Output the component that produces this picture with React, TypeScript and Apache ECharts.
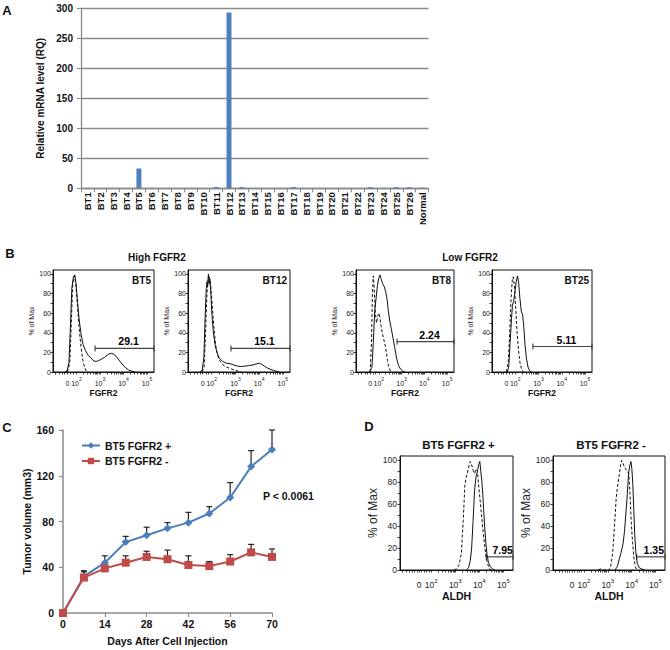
import React, { useEffect, useRef } from "react";
import * as echarts from "echarts";

const FONT = '"Liberation Sans", Arial, Helvetica, sans-serif';

// ---------- Panel A : relative FGFR2 mRNA level ----------
const sampleNames = [
  "BT1", "BT2", "BT3", "BT4", "BT5", "BT6", "BT7", "BT8", "BT9", "BT10",
  "BT11", "BT12", "BT13", "BT14", "BT15", "BT16", "BT17", "BT18", "BT19", "BT20",
  "BT21", "BT22", "BT23", "BT24", "BT25", "BT26", "Normal",
];
const rqValues = [
  0.3, 0.3, 0.5, 0.4, 33, 0.3, 0.4, 0.4, 0.3, 0.4,
  2.2, 293, 2, 0.5, 0.3, 0.3, 2, 0.5, 0.4, 0.3,
  0.3, 0.4, 1.8, 0.4, 1.8, 1.8, 1,
];

// ---------- Panel B : FGFR2 flow histograms (x = log10 scale units, y = % of max) ----------
const fgfr2Samples = ["BT5", "BT12", "BT8", "BT25"];
const bt5Stained = [[1.5,0],[1.6,1],[1.68,10],[1.74,45],[1.8,85],[1.87,97],[1.93,99],[1.98,90],[2.05,70],[2.12,52],[2.2,38],[2.28,28],[2.38,22],[2.5,17],[2.62,14],[2.75,11],[2.9,11],[3.05,13],[3.2,15],[3.35,18],[3.48,19],[3.6,18],[3.72,15],[3.85,11],[3.98,7],[4.1,4],[4.22,2],[4.35,1],[4.5,0]];
const bt5Control = [[1.6,0],[1.66,3],[1.72,12],[1.78,50],[1.84,90],[1.9,98],[1.96,92],[2.02,75],[2.08,55],[2.14,38],[2.2,24],[2.27,12],[2.34,5],[2.42,1],[2.5,0]];
const bt12Stained = [[1.5,0],[1.6,2],[1.67,15],[1.72,55],[1.77,85],[1.8,92],[1.83,88],[1.86,100],[1.89,90],[1.92,95],[1.96,82],[2.0,62],[2.07,40],[2.14,28],[2.22,20],[2.32,14],[2.45,11],[2.6,9],[2.78,8.5],[2.95,7],[3.1,6],[3.25,5.5],[3.4,6],[3.55,6.5],[3.7,7],[3.85,8],[4.0,9],[4.1,8],[4.22,6],[4.35,4],[4.5,2.5],[4.62,1.5],[4.75,0.5],[4.85,0]];
const bt12Control = [[1.6,0],[1.68,5],[1.74,40],[1.8,80],[1.85,95],[1.9,97],[1.95,90],[2.0,75],[2.06,55],[2.12,38],[2.18,25],[2.25,17],[2.35,11],[2.48,7],[2.62,5],[2.78,3.5],[2.95,2],[3.1,1],[3.25,0]];
const bt8Stained = [[1.6,0],[1.7,5],[1.76,30],[1.82,62],[1.88,75],[1.94,88],[2.0,96],[2.05,99],[2.1,95],[2.17,90],[2.24,87],[2.3,82],[2.36,75],[2.42,62],[2.48,52],[2.55,44],[2.62,35],[2.7,25],[2.78,14],[2.86,7],[2.95,3],[3.05,1],[3.15,0]];
const bt8Control = [[1.62,0],[1.68,30],[1.72,80],[1.76,98],[1.8,85],[1.85,60],[1.9,50],[1.96,58],[2.02,60],[2.08,50],[2.15,40],[2.22,33],[2.3,25],[2.38,12],[2.45,4],[2.52,1],[2.6,0]];
const bt25Stained = [[1.65,0],[1.72,5],[1.78,30],[1.84,55],[1.88,68],[1.93,72],[1.98,80],[2.04,92],[2.1,98],[2.15,90],[2.2,75],[2.26,62],[2.32,58],[2.37,45],[2.42,28],[2.48,14],[2.55,5],[2.62,1],[2.7,0]];
const bt25Control = [[1.62,0],[1.7,10],[1.77,45],[1.83,80],[1.88,96],[1.92,97],[1.97,85],[2.02,65],[2.08,40],[2.14,22],[2.2,10],[2.27,3],[2.35,0]];
const fgfr2GateStart = [2.79, 2.81, 2.8, 2.76];
const fgfr2GateEnd = [5.3, 5.3, 5.3, 5.3];
const fgfr2GateLevel = [24, 24, 31, 26];
const fgfr2GatePct = ["29.1", "15.1", "2.24", "5.11"];

// ---------- Panel C : tumour growth ----------
const days = [0, 7, 14, 21, 28, 35, 42, 49, 56, 63, 70];
const plusMean = [0, 32, 44, 62, 68, 74, 79, 87, 101, 128, 143];
const plusUpper = [0, 37, 50, 67, 75, 79, 88, 93, 114, 142, 160];
const minusMean = [0, 31, 39, 44, 49, 47, 42, 41, 45, 53, 49];
const minusUpper = [0, 36, 44, 50, 54, 55, 50, 45, 51, 60, 56];
const growthSeriesNames = ["BT5 FGFR2 +", "BT5 FGFR2 -"];
const pValueText = "P < 0.0061";

// ---------- Panel D : ALDH flow histograms ----------
const aldhTitles = ["BT5 FGFR2 +", "BT5 FGFR2 -"];
const aldhPlusStained = [[3.45,0],[3.55,2],[3.62,8],[3.68,20],[3.74,45],[3.8,72],[3.86,85],[3.92,90],[3.97,96],[4.02,99],[4.06,90],[4.1,82],[4.14,70],[4.18,55],[4.22,40],[4.27,25],[4.32,14],[4.38,7],[4.45,3],[4.55,1],[4.65,0]];
const aldhPlusControl = [[2.95,0],[3.05,1],[3.15,4],[3.25,15],[3.33,45],[3.4,78],[3.47,86],[3.55,93],[3.62,99],[3.68,96],[3.74,91],[3.8,88],[3.86,92],[3.92,90],[3.98,75],[4.04,62],[4.1,48],[4.16,35],[4.22,22],[4.28,12],[4.35,5],[4.42,1],[4.5,0]];
const aldhMinusStained = [[3.3,0],[3.4,3],[3.48,10],[3.56,16],[3.64,24],[3.7,35],[3.76,52],[3.82,70],[3.87,88],[3.92,95],[3.97,99],[4.01,92],[4.05,78],[4.09,55],[4.13,32],[4.18,15],[4.24,6],[4.32,2],[4.42,1],[4.55,0]];
const aldhMinusControl = [[2.6,0],[2.7,1],[2.8,0],[3.05,0],[3.12,3],[3.2,15],[3.28,40],[3.35,65],[3.4,75],[3.47,85],[3.53,95],[3.58,100],[3.64,97],[3.7,94],[3.76,92],[3.82,90],[3.88,88],[3.93,70],[3.98,45],[4.04,25],[4.1,10],[4.16,3],[4.22,0]];
const aldhGateStart = [4.29, 4.21];
const aldhGateEnd = [5.4, 5.4];
const aldhGateLevel = [12, 12];
const aldhGatePct = ["7.95", "1.35"];

// ---------- layout ----------
const histFrames = [
  { left: 53, width: 101 },
  { left: 188, width: 102 },
  { left: 356, width: 98 },
  { left: 492, width: 100 },
];
const histTop = 270;
const histHeight = 102;
const aldhFrames = [
  { left: 400, width: 113 },
  { left: 553, width: 112 },
];
const aldhTop = 456;
const aldhHeight = 114;

const logTicks = (lo: number, hi: number) => {
  const out: number[] = [];
  for (let d = lo; d < hi; d++) for (let k = 1; k < 10; k++) out.push(d + Math.log10(k));
  out.push(hi);
  return out;
};

function flowXAxis(grid: number, min: number, max: number, zeroAt: number, linearTicks: number[], fs: number, name: string, nameFs: number, nameGap: number, margin: number) {
  return {
    type: "value", gridIndex: grid, min, max,
    axisLine: { show: true, lineStyle: { color: "#111", width: 1 } },
    axisTick: { show: true, length: 2.5, customValues: [...linearTicks, ...logTicks(2, 5)], lineStyle: { color: "#111", width: 0.8 } },
    axisLabel: {
      customValues: [zeroAt, 2, 3, 4, 5], margin,
      formatter: (v: number) => (v < 1.9 ? "{b|0}" : `{b|10}{s|${Math.round(v)}}`),
      rich: {
        b: { fontSize: fs, color: "#222", fontFamily: FONT, verticalAlign: "bottom", lineHeight: fs + 4 },
        s: { fontSize: fs * 0.72, color: "#222", fontFamily: FONT, verticalAlign: "top", lineHeight: fs * 0.75 },
      },
    },
    splitLine: { show: false },
    name, nameLocation: "middle", nameGap,
    nameTextStyle: { fontSize: nameFs, fontWeight: "bold", color: "#111", fontFamily: FONT },
  };
}

function flowYAxis(grid: number, fs: number, nameFs: number, nameGap: number, margin: number) {
  return {
    type: "value", gridIndex: grid, min: 0, max: 104,
    axisLine: { show: true, lineStyle: { color: "#111", width: 1 } },
    axisTick: { show: true, length: 2.5, customValues: [0, 10, 20, 30, 40, 50, 60, 70, 80, 90, 100], lineStyle: { color: "#111", width: 0.8 } },
    axisLabel: { customValues: [0, 20, 40, 60, 80, 100], fontSize: fs, color: "#222", fontFamily: FONT, margin },
    splitLine: { show: false },
    name: "% of Max", nameLocation: "middle", nameGap,
    nameTextStyle: { fontSize: nameFs, color: "#222", fontFamily: FONT },
  };
}

const gateRenderer = (labels: string[], offset: number) => (params: any, api: any) => {
  const a = api.coord([api.value(0), api.value(2)]);
  const b = api.coord([api.value(1), api.value(2)]);
  const st = { stroke: "#444", lineWidth: 1.2 };
  const cap = 3;
  return {
    type: "group",
    children: [
      { type: "line", shape: { x1: a[0], y1: a[1], x2: b[0], y2: b[1] }, style: st },
      { type: "line", shape: { x1: a[0], y1: a[1] - cap, x2: a[0], y2: a[1] + cap }, style: st },
      { type: "line", shape: { x1: b[0], y1: b[1] - cap, x2: b[0], y2: b[1] + cap }, style: st },
      {
        type: "text", x: (a[0] + b[0]) / 2 + offset, y: a[1] - 1.5,
        style: { text: labels[params.dataIndex], fill: "#000", font: `bold 10.5px ${FONT}`, align: "center", verticalAlign: "bottom" },
      },
    ],
  };
};

const errorRenderer = (params: any, api: any) => {
  const x = api.value(0), m = api.value(1), t = api.value(2);
  if (!(t > m)) return null;
  const p0 = api.coord([x, m]);
  const p1 = api.coord([x, t]);
  const st = { stroke: "#222", lineWidth: 1.2 };
  return {
    type: "group",
    children: [
      { type: "line", shape: { x1: p0[0], y1: p0[1], x2: p1[0], y2: p1[1] }, style: st },
      { type: "line", shape: { x1: p1[0] - 3, y1: p1[1], x2: p1[0] + 3, y2: p1[1] }, style: st },
    ],
  };
};

function buildOption() {
  const grids: any[] = [
    { left: 81, top: 8.3, width: 347.5, height: 180 },
    ...histFrames.map((f) => ({ left: f.left, top: histTop, width: f.width, height: histHeight, show: true, borderColor: "#111", borderWidth: 1 })),
    { left: 63, top: 430, width: 209, height: 183 },
    ...aldhFrames.map((f) => ({ left: f.left, top: aldhTop, width: f.width, height: aldhHeight, show: true, borderColor: "#111", borderWidth: 1 })),
  ].map((g) => ({ ...g, containLabel: false, outerBoundsMode: "none" }));

  const xAxes: any[] = [];
  const yAxes: any[] = [];

  // A
  xAxes.push({
    type: "category", gridIndex: 0, data: sampleNames,
    axisLine: { lineStyle: { color: "#8a8a8a", width: 1.3 } },
    axisTick: { show: true, alignWithLabel: false, interval: 0, length: 4, lineStyle: { color: "#8a8a8a" } },
    axisLabel: { rotate: 90, interval: 0, fontSize: 9.5, fontWeight: "bold", color: "#111", margin: 4, fontFamily: FONT },
  });
  yAxes.push({
    type: "value", gridIndex: 0, min: 0, max: 300, interval: 50,
    axisLine: { show: true, lineStyle: { color: "#8a8a8a", width: 1.3 } },
    axisTick: { show: true, length: 4, lineStyle: { color: "#8a8a8a" } },
    splitLine: { show: true, lineStyle: { color: "#8a8a8a", width: 1.3 } },
    axisLabel: { fontSize: 10, fontWeight: "bold", color: "#111", margin: 8, fontFamily: FONT },
    name: "Relative mRNA level (RQ)", nameLocation: "middle", nameGap: 29,
    nameTextStyle: { fontSize: 10, fontWeight: "bold", color: "#111", fontFamily: FONT },
  });

  // B
  histFrames.forEach((_, i) => {
    xAxes.push(flowXAxis(1 + i, 1, 5.3, 1.62, [1.1, 1.25, 1.4, 1.5, 1.62, 1.75, 1.85], 7, "FGFR2", 8.5, 16, 4));
    yAxes.push(flowYAxis(1 + i, 7, 7, 16.5, 2));
  });

  // C
  xAxes.push({
    type: "value", gridIndex: 5, min: 0, max: 70, interval: 14,
    axisLine: { lineStyle: { color: "#8a8a8a", width: 1.5 } },
    axisTick: { show: true, length: 4, lineStyle: { color: "#8a8a8a", width: 1.2 } },
    axisLabel: { fontSize: 10.5, fontWeight: "bold", color: "#111", margin: 5, fontFamily: FONT },
    splitLine: { show: false },
    name: "Days After Cell Injection", nameLocation: "middle", nameGap: 22,
    nameTextStyle: { fontSize: 10.5, fontWeight: "bold", color: "#111", fontFamily: FONT },
  });
  yAxes.push({
    type: "value", gridIndex: 5, min: 0, max: 160, interval: 40,
    axisLine: { show: true, lineStyle: { color: "#8a8a8a", width: 1.5 } },
    axisTick: { show: true, length: 4, lineStyle: { color: "#8a8a8a", width: 1.2 } },
    axisLabel: { fontSize: 10.5, fontWeight: "bold", color: "#111", margin: 9, fontFamily: FONT },
    splitLine: { show: false },
    name: "Tumor volume (mm3)", nameLocation: "middle", nameGap: 23,
    nameTextStyle: { fontSize: 10.5, fontWeight: "bold", color: "#111", fontFamily: FONT },
  });

  // D
  aldhFrames.forEach((_, i) => {
    xAxes.push(flowXAxis(6 + i, 0.7, 5.4, 1.5, [0.8, 0.95, 1.1, 1.2, 1.3, 1.4, 1.5, 1.6, 1.7, 1.8, 1.9], 8.5, "ALDH", 10.5, 17, 7));
    yAxes.push(flowYAxis(6 + i, 8.5, 12, 16, 3));
  });

  const series: any[] = [];
  series.push({
    type: "bar", xAxisIndex: 0, yAxisIndex: 0, data: rqValues, barWidth: 5,
    itemStyle: { color: "#4F81BD" },
  });

  const fgfr2Stained = [bt5Stained, bt12Stained, bt8Stained, bt25Stained];
  const fgfr2Control = [bt5Control, bt12Control, bt8Control, bt25Control];
  const lineBase = { type: "line", symbol: "none", showSymbol: false, smooth: false, clip: true, silent: true };
  fgfr2Samples.forEach((_, i) => {
    const ax = 1 + i;
    series.push({ ...lineBase, xAxisIndex: ax, yAxisIndex: ax, data: fgfr2Control[i], lineStyle: { color: "#111", width: 1, type: [3, 2] } });
    series.push({ ...lineBase, xAxisIndex: ax, yAxisIndex: ax, data: fgfr2Stained[i], lineStyle: { color: "#111", width: 1 } });
    series.push({
      type: "custom", xAxisIndex: ax, yAxisIndex: ax,
      data: [[fgfr2GateStart[i], fgfr2GateEnd[i], fgfr2GateLevel[i]]],
      renderItem: gateRenderer([fgfr2GatePct[i]], 4), clip: false, silent: true,
    });
  });

  // C
  series.push({ type: "custom", xAxisIndex: 5, yAxisIndex: 5, data: days.map((d, i) => [d, plusMean[i], plusUpper[i]]), renderItem: errorRenderer, z: 1, silent: true });
  series.push({ type: "custom", xAxisIndex: 5, yAxisIndex: 5, data: days.map((d, i) => [d, minusMean[i], minusUpper[i]]), renderItem: errorRenderer, z: 1, silent: true });
  series.push({
    type: "line", name: growthSeriesNames[0], xAxisIndex: 5, yAxisIndex: 5,
    data: days.map((d, i) => [d, plusMean[i]]), symbol: "diamond", symbolSize: 8,
    lineStyle: { color: "#4A7EBB", width: 2 }, itemStyle: { color: "#4A7EBB" }, z: 3,
  });
  series.push({
    type: "line", name: growthSeriesNames[1], xAxisIndex: 5, yAxisIndex: 5,
    data: days.map((d, i) => [d, minusMean[i]]), symbol: "rect", symbolSize: 8,
    lineStyle: { color: "#BE4B48", width: 2 }, itemStyle: { color: "#BE4B48" }, z: 4,
  });

  // D
  const aldhStained = [aldhPlusStained, aldhMinusStained];
  const aldhControl = [aldhPlusControl, aldhMinusControl];
  aldhTitles.forEach((_, i) => {
    const ax = 6 + i;
    series.push({ ...lineBase, xAxisIndex: ax, yAxisIndex: ax, data: aldhControl[i], lineStyle: { color: "#111", width: 1, type: [3, 2] } });
    series.push({ ...lineBase, xAxisIndex: ax, yAxisIndex: ax, data: aldhStained[i], lineStyle: { color: "#111", width: 1 } });
    series.push({
      type: "custom", xAxisIndex: ax, yAxisIndex: ax,
      data: [[aldhGateStart[i], aldhGateEnd[i], aldhGateLevel[i]]],
      renderItem: gateRenderer([aldhGatePct[i]], 3), clip: false, silent: true,
    });
  });

  const txt = (text: string, x: number, y: number, font: string, align = "center") => ({
    type: "text", x, y, silent: true,
    style: { text, font, fill: "#111", align, verticalAlign: "middle" },
  });
  const letter = `bold 13px ${FONT}`;
  const graphics: any[] = [
    txt("A", 7, 10, letter),
    txt("B", 10, 253, letter),
    txt("C", 7, 427, letter),
    txt("D", 369, 426, letter),
    txt("High FGFR2", 157, 257, `bold 10px ${FONT}`),
    txt("Low FGFR2", 470, 257, `bold 10px ${FONT}`),
    ...histFrames.map((f, i) => txt(fgfr2Samples[i], f.left + f.width - 3, 280, `bold 10px ${FONT}`, "right")),
    txt(pValueText, 263, 496, `bold 10.5px ${FONT}`, "left"),
    ...aldhFrames.map((f, i) => txt(aldhTitles[i], f.left + f.width / 2 + 2, 445, `bold 11.5px ${FONT}`)),
  ];

  return {
    animation: false,
    backgroundColor: "#ffffff",
    textStyle: { fontFamily: FONT },
    grid: grids,
    xAxis: xAxes,
    yAxis: yAxes,
    legend: {
      data: growthSeriesNames, orient: "vertical", left: 76, top: 435,
      itemWidth: 18, itemHeight: 8, itemGap: 4.5,
      textStyle: { fontSize: 10.5, fontWeight: "bold", color: "#111", fontFamily: FONT },
    },
    graphic: graphics,
    series,
  };
}

export default function App() {
  const ref = useRef<HTMLDivElement>(null);
  useEffect(() => {
    if (!ref.current) return;
    const chart = echarts.init(ref.current, null, { renderer: "svg" });
    chart.setOption(buildOption() as any);
    return () => chart.dispose();
  }, []);
  return (
    <div
      ref={ref}
      style={{ position: "fixed", left: 0, top: 0, width: 670, height: 650, background: "#fff" }}
    />
  );
}
